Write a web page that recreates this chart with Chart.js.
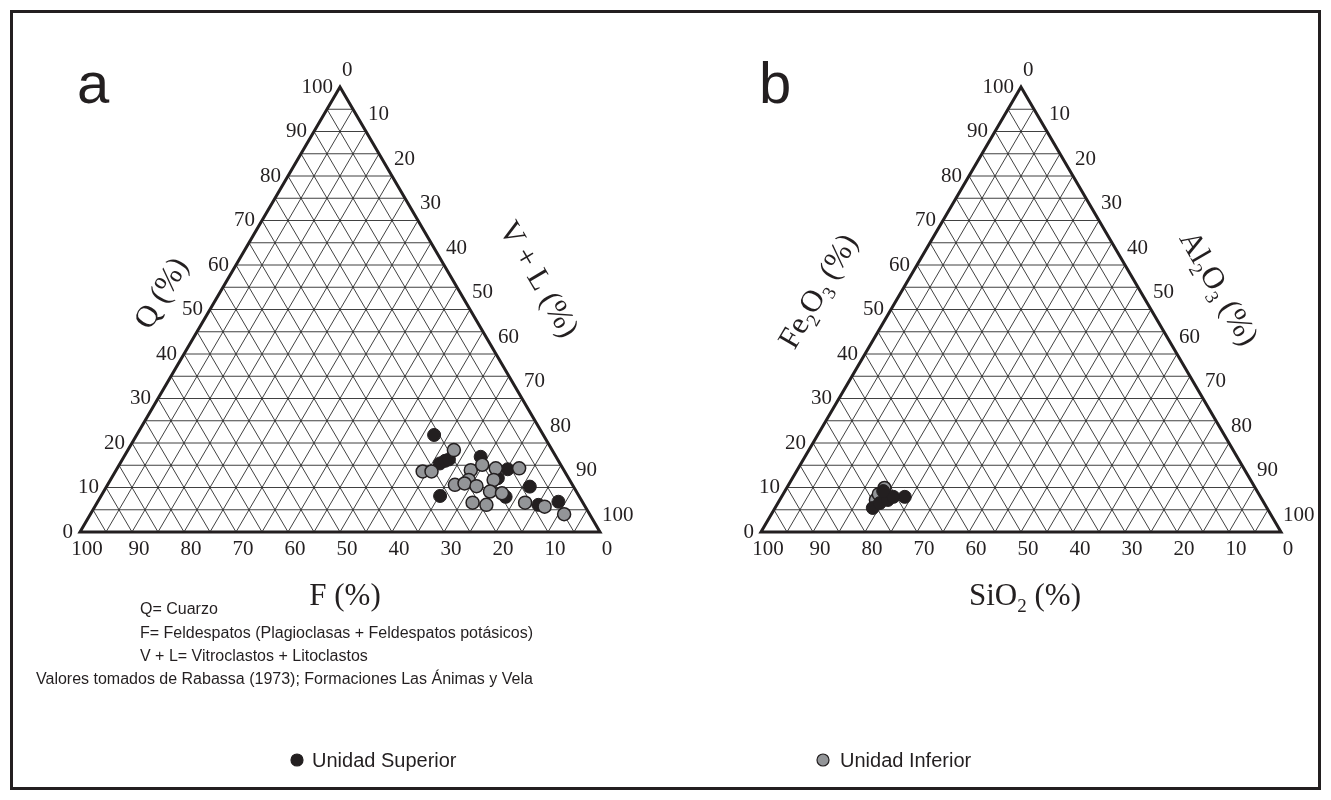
<!DOCTYPE html>
<html lang="es">
<head>
<meta charset="UTF-8">
<title>Diagramas ternarios QFL y SiO2-Al2O3-Fe2O3</title>
<script src="https://cdn.jsdelivr.net/npm/chart.js"></script>
<style>
  body { margin: 0; background: #fff; }
  #wrap { width: 1331px; height: 800px; }
</style>
</head>
<body>
<div id="wrap"><canvas id="ternaryChart"></canvas></div>

<script>
    // tick labels on every side, grid every 5 %
    const tickValues = [0, 10, 20, 30, 40, 50, 60, 70, 80, 90, 100];
    const gridStep = 5;

    // a: Q (top), F (bottom left), V + L (bottom right), in %
    const supQ  = [21.8, 15.4, 16.0, 16.3, 16.9, 14.1, 10.2, 8.1, 7.9, 6.8, 6.1, 12.1];
    const supVL = [57.2, 61.5, 62.2, 62.8, 68.6, 75.2, 81.4, 65.2, 77.9, 88.6, 85.1, 74.3];
    const supF  = [21.0, 23.1, 21.8, 20.9, 14.5, 10.7, 8.4, 26.7, 14.2, 4.6, 8.8, 13.6];

    const infQ  = [18.4, 13.6, 13.6, 13.9, 15.1, 14.3, 14.3, 11.7, 10.6, 10.9, 10.3, 11.7, 9.1, 8.7, 6.6, 6.1, 6.6, 5.7, 4.0];
    const infVL = [62.7, 59.1, 60.8, 68.2, 69.8, 72.8, 77.3, 68.9, 66.8, 68.5, 71.1, 73.7, 74.3, 76.8, 72.2, 75.1, 82.3, 86.5, 91.1];
    const infF  = [18.9, 27.3, 25.6, 17.9, 15.1, 12.9, 8.4, 19.4, 22.6, 20.6, 18.6, 14.6, 16.6, 14.5, 21.2, 18.8, 11.1, 7.8, 4.9];

    // b: Fe2O3 (top), SiO2 (bottom left), Al2O3 (bottom right), in %
    const supFe = [7.9, 5.4, 6.5, 7.2, 7.9, 9.2];
    const supAl = [23.7, 18.8, 19.6, 20.8, 21.5, 18.9];
    const supSi = [68.4, 75.8, 73.9, 72.0, 70.6, 71.9];

    const infFe = [9.9, 7.2, 8.5];
    const infAl = [18.8, 18.5, 18.4];
    const infSi = [71.3, 74.3, 73.1];

    const notes = [
        'Q= Cuarzo',
        'F= Feldespatos (Plagioclasas + Feldespatos potásicos)',
        'V + L= Vitroclastos + Litoclastos',
        'Valores tomados de Rabassa (1973); Formaciones Las Ánimas y Vela'
    ];

    const H = Math.sqrt(3) / 2;
    const offsetB = 130.96;   // x shift of triangle b, in data units
    const black = '#231f20';
    const gray = '#939598';
    const serif = '"Liberation Serif", "DejaVu Serif", serif';
    const sans = '"Liberation Sans", Arial, sans-serif';

    // ternary -> cartesian (top, left, right components)
    function toXY(top, left, right, offset) {
        return top.map((t, i) => {
            const s = t + left[i] + right[i];
            const tt = t / s, rr = right[i] / s;
            return {x: offset + 100 * (rr + tt / 2), y: 100 * tt * H};
        });
    }

    const panels = [
        {offset: 0, titles: [
            {parts: [['Q (%)']], side: 'left', dx: -50, dy: -17},
            {parts: [['V + L (%)']], side: 'right', dx: 70, dy: -31},
            {parts: [['F (%)']], side: 'bottom', dx: 5, dy: 62}
        ]},
        {offset: offsetB, titles: [
            {parts: [['Fe'], ['2', 1], ['O'], ['3', 1], [' (%)']], side: 'left', dx: -74, dy: -19},
            {parts: [['Al'], ['2', 1], ['O'], ['3', 1], [' (%)']], side: 'right', dx: 69, dy: -22},
            {parts: [['SiO'], ['2', 1], [' (%)']], side: 'bottom', dx: 4, dy: 62}
        ]}
    ];

    function drawRich(ctx, parts, size, cx, cy, angle) {
        const big = size + 'px ' + serif;
        const small = Math.round(size * 0.6) + 'px ' + serif;
        ctx.save();
        ctx.translate(cx, cy);
        ctx.rotate(angle);
        ctx.textAlign = 'left';
        ctx.textBaseline = 'alphabetic';
        let w = 0;
        parts.forEach(([t, sub]) => { ctx.font = sub ? small : big; w += ctx.measureText(t).width; });
        let xx = -w / 2;
        parts.forEach(([t, sub]) => {
            ctx.font = sub ? small : big;
            ctx.fillText(t, xx, sub ? size * 0.58 : size * 0.35);
            xx += ctx.measureText(t).width;
        });
        ctx.restore();
    }

    const ternaryDecor = {
        id: 'ternaryDecor',
        beforeDatasetsDraw(chart) {
            const {ctx, scales: {x, y}} = chart;
            ctx.save();
            ctx.strokeStyle = black;
            ctx.lineWidth = 3;
            ctx.strokeRect(11.5, 11.5, 1308, 777);

            panels.forEach(p => {
                const pt = (top, right) => [x.getPixelForValue(p.offset + right + top / 2), y.getPixelForValue(top * H)];
                const seg = (a, b) => { ctx.moveTo(a[0], a[1]); ctx.lineTo(b[0], b[1]); };

                ctx.beginPath();
                for (let k = gridStep; k < 100; k += gridStep) {
                    seg(pt(k, 0), pt(k, 100 - k));          // constant top
                    seg(pt(0, k), pt(100 - k, k));          // constant right
                    seg(pt(100 - k, 0), pt(0, 100 - k));    // constant left
                }
                ctx.strokeStyle = '#2b2b2b';
                ctx.lineWidth = 0.9;
                ctx.stroke();

                ctx.beginPath();
                const A = pt(100, 0), L = pt(0, 0), R = pt(0, 100);
                ctx.moveTo(A[0], A[1]); ctx.lineTo(R[0], R[1]); ctx.lineTo(L[0], L[1]); ctx.closePath();
                ctx.strokeStyle = black;
                ctx.lineWidth = 3;
                ctx.lineJoin = 'miter';
                ctx.stroke();

                ctx.fillStyle = black;
                ctx.font = '21px ' + serif;
                tickValues.forEach(v => {
                    let q = pt(v, 0);
                    ctx.textAlign = 'right'; ctx.textBaseline = 'middle';
                    ctx.fillText(String(v), q[0] - 7, q[1]);
                    q = pt(0, 100 - v);
                    ctx.textAlign = 'center';
                    ctx.fillText(String(v), q[0] + 7, q[1] + 17);
                    q = pt(100 - v, v);
                    ctx.textAlign = 'left';
                    ctx.fillText(String(v), q[0] + 2, q[1] - 17);
                });

                const ang = Math.atan2(A[1] - L[1], A[0] - L[0]);
                p.titles.forEach(t => {
                    let c, a = 0;
                    if (t.side === 'left') { c = pt(50, 0); a = ang; }
                    else if (t.side === 'right') { c = pt(50, 50); a = -ang; }
                    else { c = pt(0, 50); }
                    drawRich(ctx, t.parts, 31, c[0] + t.dx, c[1] + t.dy, a);
                });
            });
            ctx.restore();
        },
        afterDraw(chart) {
            const {ctx} = chart;
            ctx.save();
            ctx.fillStyle = black;
            ctx.textAlign = 'left';
            ctx.textBaseline = 'alphabetic';
            ctx.font = '58px ' + sans;
            ctx.fillText('a', 77, 103);
            ctx.fillText('b', 759, 103);

            ctx.font = '16px ' + sans;
            ctx.fillText(notes[0], 140, 614);
            ctx.fillText(notes[1], 140, 638);
            ctx.fillText(notes[2], 140, 661);
            ctx.fillText(notes[3], 36, 684);

            // legend, one entry per unit
            const items = [[chart.data.datasets[0], 297, 312], [chart.data.datasets[1], 823, 840]];
            ctx.font = '20px ' + sans;
            ctx.textBaseline = 'middle';
            items.forEach(([ds, cx, tx]) => {
                ctx.beginPath();
                ctx.arc(cx, 760, 6, 0, Math.PI * 2);
                ctx.fillStyle = ds.backgroundColor;
                ctx.fill();
                ctx.lineWidth = 1.2;
                ctx.strokeStyle = black;
                ctx.stroke();
                ctx.fillStyle = black;
                ctx.fillText(ds.label, tx, 761);
            });
            ctx.restore();
        }
    };

    const ctx1 = document.getElementById('ternaryChart').getContext('2d');
    const ternaryChart = new Chart(ctx1, {
        type: 'scatter',
        data: {
            datasets: [{
                label: 'Unidad Superior',
                data: toXY(supQ, supF, supVL, 0),
                backgroundColor: black,
                borderColor: black,
                borderWidth: 1,
                pointRadius: 6.5,
                order: 2
            }, {
                label: 'Unidad Inferior',
                data: toXY(infQ, infF, infVL, 0),
                backgroundColor: gray,
                borderColor: black,
                borderWidth: 1.5,
                pointRadius: 6.5,
                order: 1
            }, {
                label: 'Unidad Superior (b)',
                data: toXY(supFe, supSi, supAl, offsetB),
                backgroundColor: black,
                borderColor: black,
                borderWidth: 1,
                pointRadius: 6.5,
                order: 3
            }, {
                label: 'Unidad Inferior (b)',
                data: toXY(infFe, infSi, infAl, offsetB),
                backgroundColor: gray,
                borderColor: black,
                borderWidth: 1.5,
                pointRadius: 6.5,
                order: 4
            }]
        },
        options: {
            responsive: true,
            maintainAspectRatio: false,
            animation: false,
            layout: {padding: 0, autoPadding: false},
            plugins: {legend: {display: false}, tooltip: {enabled: false}},
            scales: {
                x: {type: 'linear', min: -80 / 5.2, max: (1331 - 80) / 5.2, display: false},
                y: {type: 'linear', min: -268 / (445 / (100 * H)), max: 532 / (445 / (100 * H)), display: false}
            }
        },
        plugins: [ternaryDecor]
    });
</script>
</body>
</html>
